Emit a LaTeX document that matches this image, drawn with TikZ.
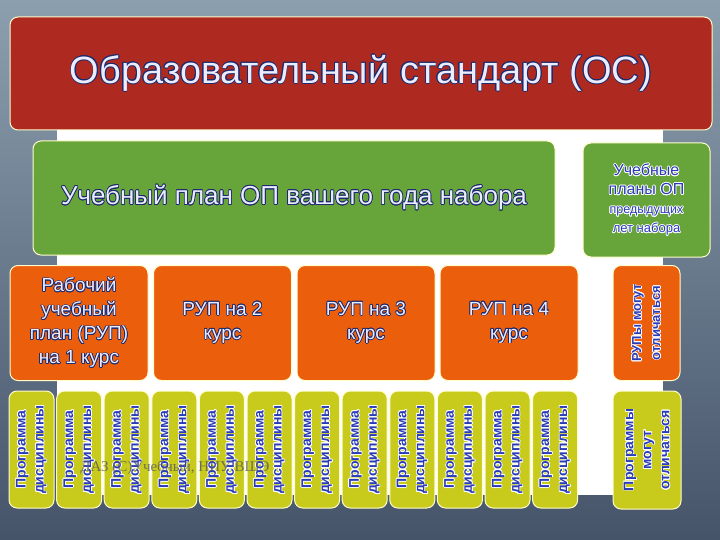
\documentclass[tikz,border=0pt]{standalone}
\usepackage{fontspec}
\setmainfont{Liberation Sans}
\newfontfamily\markfont{Liberation Serif}
\usepackage{contour}
\contourlength{0.7pt}
\definecolor{bgtop}{HTML}{8C9FAE}
\definecolor{bgbot}{HTML}{46546A}
\definecolor{osred}{HTML}{AE2A20}
\definecolor{upgreen}{HTML}{67A43A}
\definecolor{ruporange}{HTML}{EB5E0C}
\definecolor{progyellow}{HTML}{C8CB1C}
\definecolor{inkblue}{HTML}{2A3BB8}
\definecolor{inknavy}{HTML}{1C2A6E}
\definecolor{inklight}{HTML}{ECECFF}
\newcommand\olnavy[1]{\contour{inknavy}{#1}}
\newcommand\olwhite[1]{\contour{white}{#1}}
\tikzset{
  plate/.style={rounded corners=8pt, draw=white!80!yellow, line width=1pt,
    inner sep=0pt, align=center},
  osbox/.style={plate, fill=osred, text=inklight},
  upbox/.style={plate, fill=upgreen, text=inklight},
  rupbox/.style={plate, fill=ruporange, text=inklight, minimum width=138,
    minimum height=115, font=\fontsize{19}{24}\selectfont},
  progbox/.style={plate, fill=progyellow, text=inkblue, rotate=90,
    minimum width=117, minimum height=45, font=\bfseries\fontsize{14}{18}\selectfont}
}
\begin{document}
\begin{tikzpicture}[x=1pt,y=-1pt]
\useasboundingbox (0,0) rectangle (720,540);
\shade[top color=bgtop, bottom color=bgbot] (0,0) rectangle (720,540);
\fill[white] (57,130) rectangle (663,495);
% standard
\node[osbox, minimum width=702, minimum height=113,
  font=\fontsize{38}{40}\selectfont] (os) at (361,73.5) {\olnavy{Образовательный стандарт (ОС)}};
% curricula
\node[upbox, minimum width=522, minimum height=114,
  font=\fontsize{26}{28}\selectfont] (plan) at (294,198) {\olnavy{Учебный план ОП вашего года набора}};
\node[upbox, text=inkblue, minimum width=127, minimum height=114,
  font=\fontsize{16}{19}\selectfont] (prevplan) at (646.5,200)
  {\olwhite{Учебные}\\\olwhite{планы ОП}\\{\fontsize{12.5}{19}\selectfont\olwhite{предыдущих}}\\{\fontsize{13}{19}\selectfont\olwhite{лет набора}}};
% working plans
\node[rupbox] (rup1) at (79,323) {\olnavy{Рабочий}\\\olnavy{учебный}\\\olnavy{план (РУП)}\\\olnavy{на 1 курс}};
\node[rupbox] (rup2) at (222.5,323) {\olnavy{РУП на 2}\\\olnavy{курс}};
\node[rupbox] (rup3) at (366,323) {\olnavy{РУП на 3}\\\olnavy{курс}};
\node[rupbox] (rup4) at (509,323) {\olnavy{РУП на 4}\\\olnavy{курс}};
\node[rupbox, rotate=90, text=inkblue, minimum width=115, minimum height=67,
  font=\bfseries\fontsize{13}{19}\selectfont] (rupprev) at (646.5,323) {\olwhite{РУПы могут}\\\olwhite{отличаться}};
% programmes
\foreach \i in {0,...,11}
  \node[progbox] (prog\i) at (31.5+47.6*\i,449.5) {\olwhite{Программа}\\\olwhite{дисциплины}};
\node[progbox, minimum width=118, minimum height=68] (progprev) at (647,450)
  {\olwhite{Программы}\\\olwhite{могут}\\\olwhite{отличаться}};
\node[font=\markfont\fontsize{15}{15}\selectfont, text=black!65, opacity=0.8] (mark) at (175,468) {ДАЗ (С)Учебный, НИУ ВШЭ};
\end{tikzpicture}
\end{document}
